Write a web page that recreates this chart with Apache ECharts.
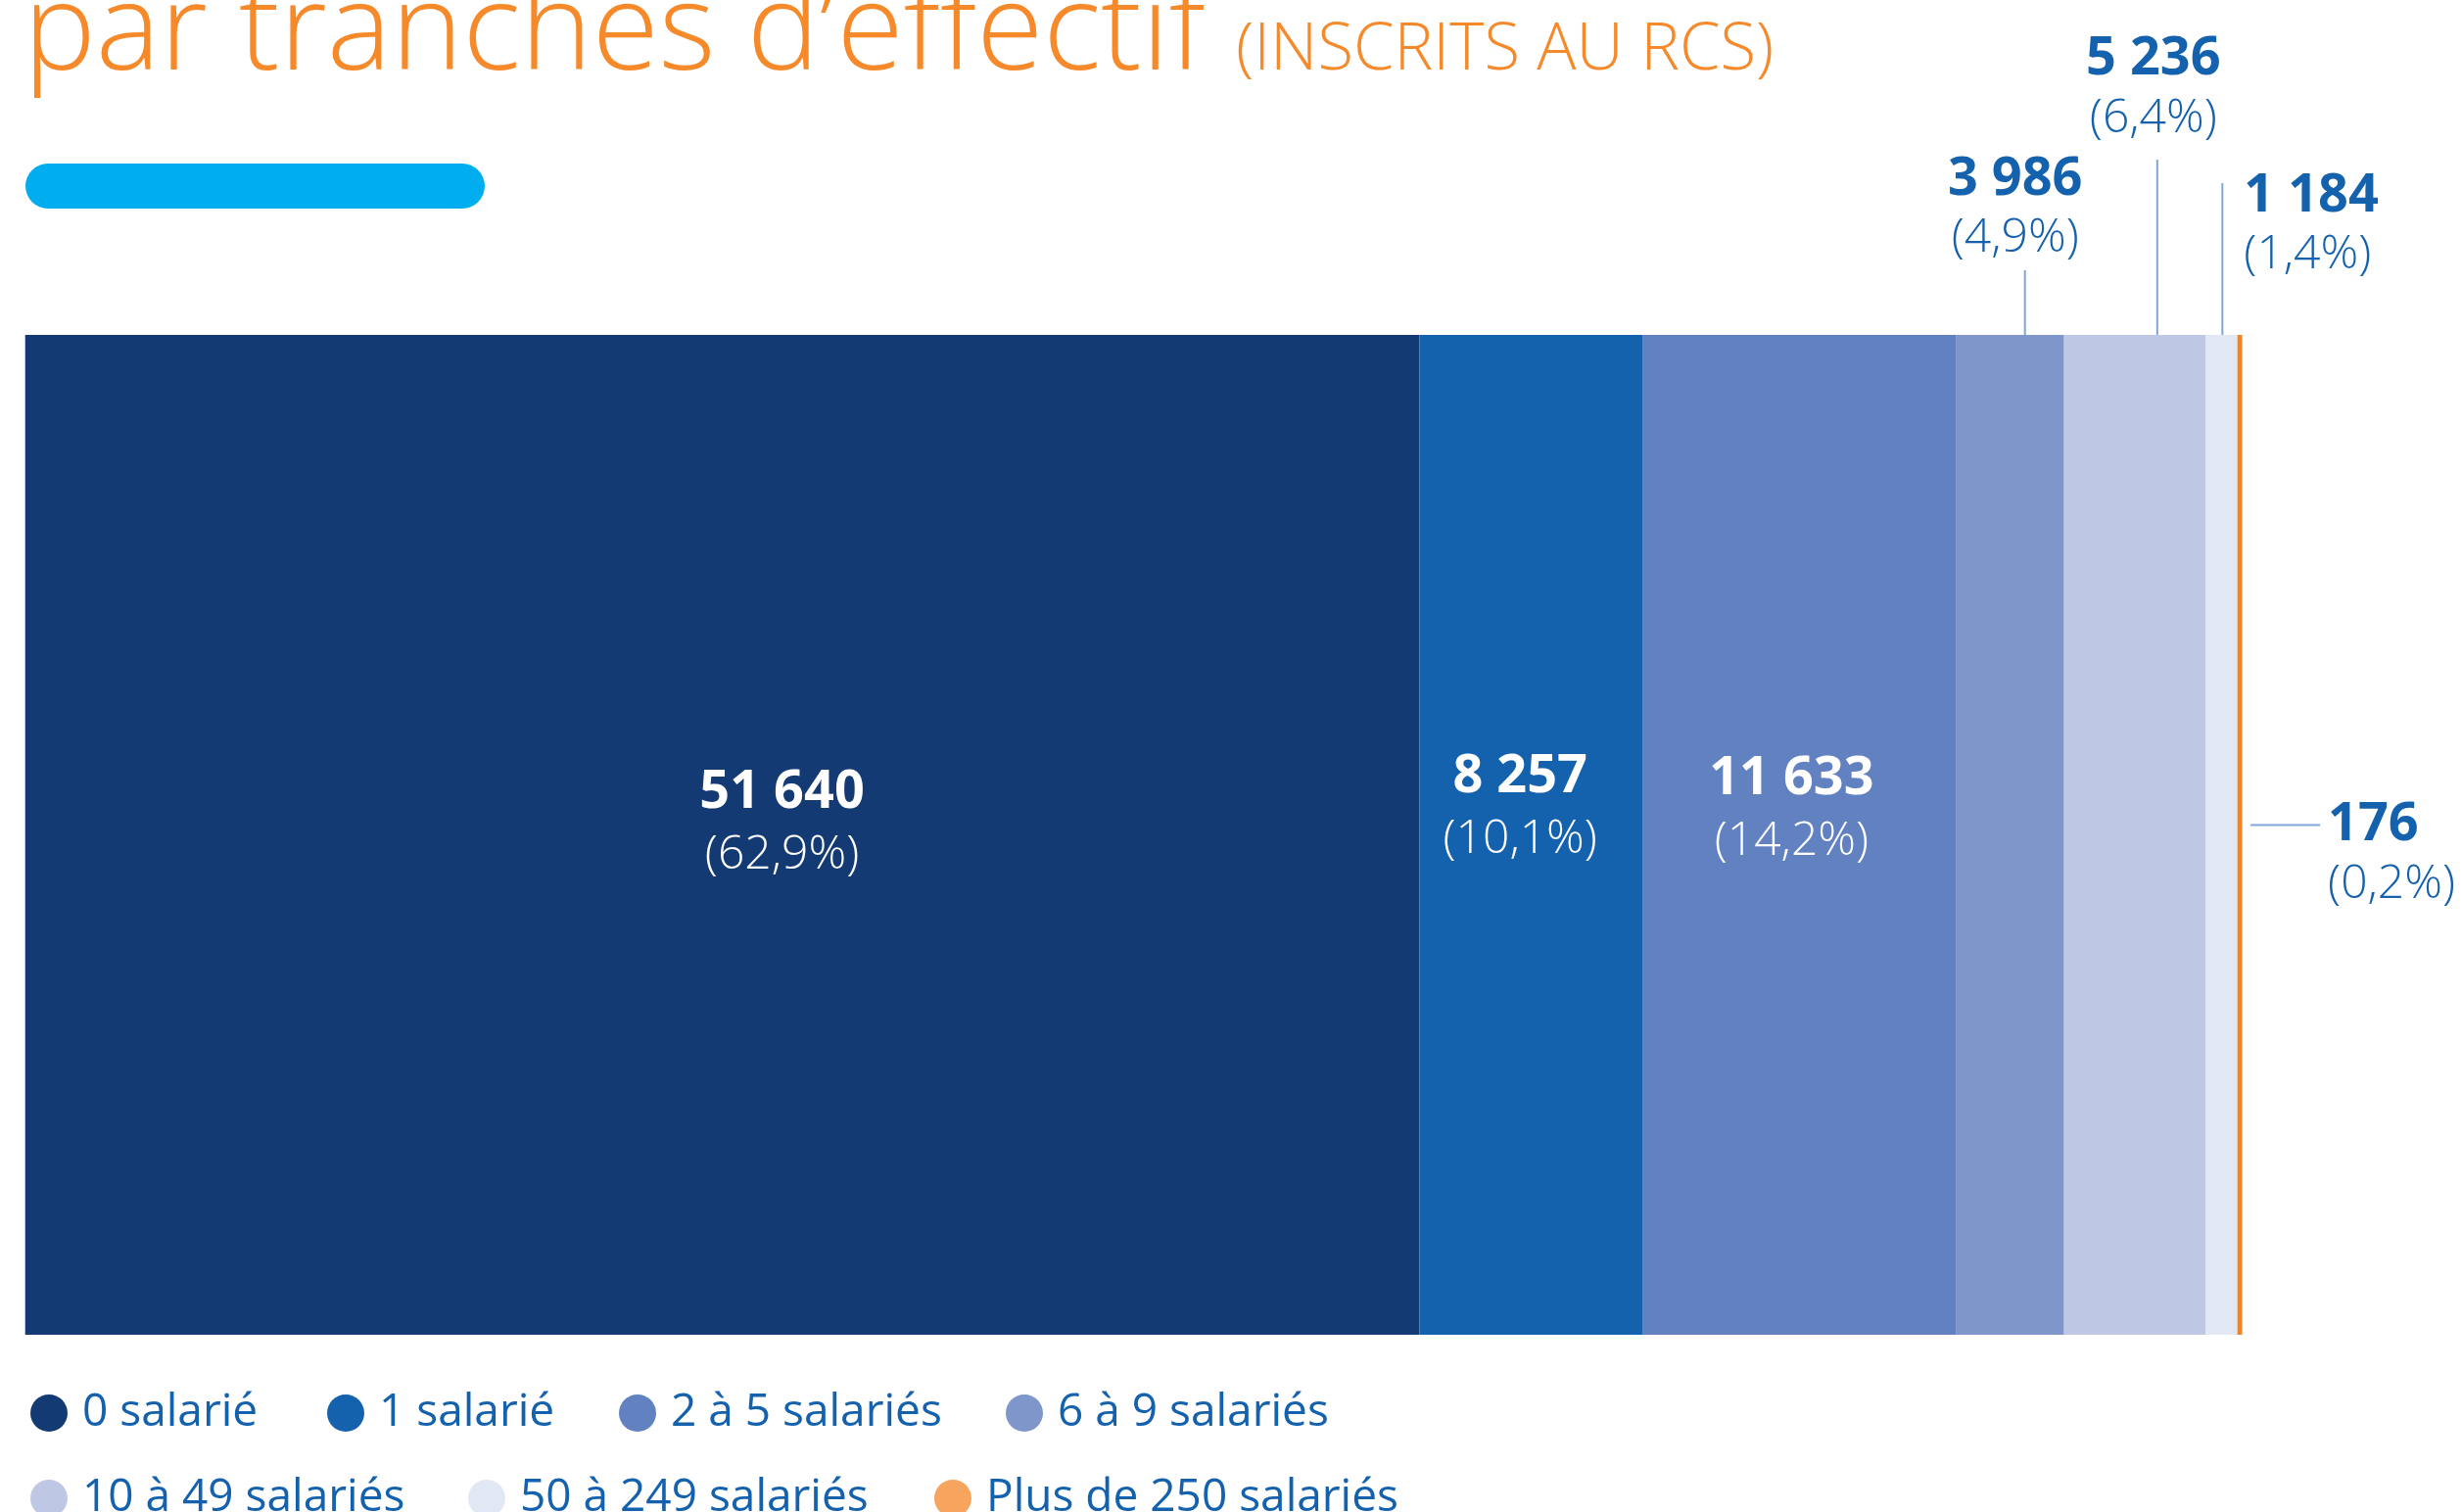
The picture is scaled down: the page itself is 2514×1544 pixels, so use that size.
<!DOCTYPE html>
<html><head><meta charset="utf-8">
<script src="https://cdn.jsdelivr.net/npm/echarts@6/dist/echarts.min.js"></script>
<style>html,body{margin:0;padding:0;background:#fff}#c{width:2514px;height:1544px}</style>
</head><body><div id="c"></div>
<script>
// ---- data ----
const categories = ['0 salarié','1 salarié','2 à 5 salariés','6 à 9 salariés','10 à 49 salariés','50 à 249 salariés','Plus de 250 salariés'];
const values = [51640, 8257, 11633, 3986, 5236, 1184, 176];
const titleText = 'par tranches d’effectif';
const subtitleText = '(INSCRITS AU RCS)';

// ---- style ----
const FONT = '"Open Sans", "Noto Sans", sans-serif';
const colors = ['#133A72','#1461AE','#6181C1','#7F96CB','#BEC7E3','#E1E7F3','#F5841F'];
const legendColors = ['#133A72','#1461AE','#6181C1','#7F96CB','#BEC7E3','#E1E7F3','#F6A45E'];
const textBlue = '#1461AE';
const orange = '#F68A2B';
const innerLabelOffsets = {0:[61,-11], 1:[-11,-27], 2:[-8,-25]};
const outside = [
  {i:3, mode:'top', dx:15, lineTop:-66, vY:-158, pY:-99, tx:-10, align:'center'},
  {i:4, mode:'top', dx:23, lineTop:-179, vY:-281, pY:-221, tx:-4, align:'center'},
  {i:5, mode:'top', dx:1, lineTop:-155, vY:-141, pY:-82, tx:22, align:'left'},
  {i:6, mode:'right', lx0:11, lx1:82, ly:-10, tx:90, vY:-10, pY:51, align:'left'}
];
const legendPos = [[31,1420],[334,1420],[632,1420],[1027,1420],[31,1507],[478,1507],[954,1507]];

const total = values.reduce((a,b)=>a+b,0);
const fmt = v => String(v).replace(/\B(?=(\d{3})+(?!\d))/g, ' ');
const pct = v => '(' + (v/total*100).toFixed(1).replace('.', ',') + '%)';
const starts = values.map((v,i)=>values.slice(0,i).reduce((a,b)=>a+b,0));

const chart = echarts.init(document.getElementById('c'), null, {renderer:'canvas'});

const barSeries = categories.map((name,i)=>({
  type:'bar', name, stack:'total', barWidth:'100%',
  data:[values[i]],
  itemStyle:{color:colors[i]},
  emphasis:{disabled:true},
  label: innerLabelOffsets[i] ? {
    show:true, position:'inside', offset:innerLabelOffsets[i],
    formatter: () => '{v|' + fmt(values[i]) + '}\n{p|' + pct(values[i]) + '}',
    rich:{
      v:{fontFamily:FONT, fontSize:54, fontWeight:700, color:'#fff', lineHeight:64, align:'center'},
      p:{fontFamily:FONT, fontSize:48, fontWeight:300, color:'#fff', lineHeight:64, align:'center'}
    }
  } : {show:false}
}));

const customSeries = {
  type:'custom', silent:true, z:5,
  encode:{x:0, y:1},
  data: outside.map((o,k)=>[starts[o.i] + values[o.i]/2, 0, k]),
  renderItem(params, api){
    const o = outside[api.value(2)];
    const c = api.coord([api.value(0), api.value(1)]);
    const band = api.size([0,1])[1];
    const top = c[1] - band/2;
    const v = values[o.i];
    const line = {stroke:'#7FA6D6', lineWidth:2};
    const vStyle = (x,y)=>({type:'text', x, y, style:{text:fmt(v), fontFamily:FONT, fontSize:54, fontWeight:700, fill:textBlue, align:o.align, verticalAlign:'middle'}});
    const pStyle = (x,y)=>({type:'text', x, y, style:{text:pct(v), fontFamily:FONT, fontSize:48, fontWeight:300, fill:textBlue, align:o.align, verticalAlign:'middle'}});
    if (o.mode === 'top') {
      const lx = c[0] + o.dx;
      return {type:'group', children:[
        {type:'line', shape:{x1:lx, y1:top+o.lineTop, x2:lx, y2:top}, style:line},
        vStyle(lx+o.tx, top+o.vY),
        pStyle(lx+o.tx, top+o.pY)
      ]};
    }
    const cy = c[1];
    return {type:'group', children:[
      {type:'line', shape:{x1:c[0]+o.lx0, y1:cy+o.ly, x2:c[0]+o.lx1, y2:cy+o.ly}, style:line},
      vStyle(c[0]+o.tx, cy+o.vY),
      pStyle(c[0]+o.tx, cy+o.pY)
    ]};
  }
};

const legends = categories.map((name,i)=>({
  data:[{name, itemStyle:{color:legendColors[i]}}],
  left:legendPos[i][0], top:legendPos[i][1], padding:0,
  icon:'circle', itemWidth:58, itemHeight:38, selectedMode:false,
  textStyle:{fontFamily:FONT, fontSize:46, color:textBlue}
}));

chart.setOption({
  animation:false,
  backgroundColor:'#fff',
  title:[
    {text:titleText, left:24, top:-26, padding:0,
     textStyle:{fontFamily:FONT, fontSize:124, fontWeight:300, color:orange, lineHeight:124}},
    {text:subtitleText, left:1262, top:18, padding:0,
     textStyle:{fontFamily:FONT, fontSize:67, fontWeight:300, color:orange, lineHeight:67}}
  ],
  graphic:[{type:'rect', left:26, top:167, shape:{width:469, height:46, r:23}, style:{fill:'#00AEEF'}}],
  legend: legends,
  grid:{left:25.7, right:224.5, top:342, bottom:181, containLabel:false},
  xAxis:{type:'value', min:0, max:total, show:false},
  yAxis:{type:'category', data:['Entreprises'], show:false},
  series:[...barSeries, customSeries]
});
</script></body></html>
